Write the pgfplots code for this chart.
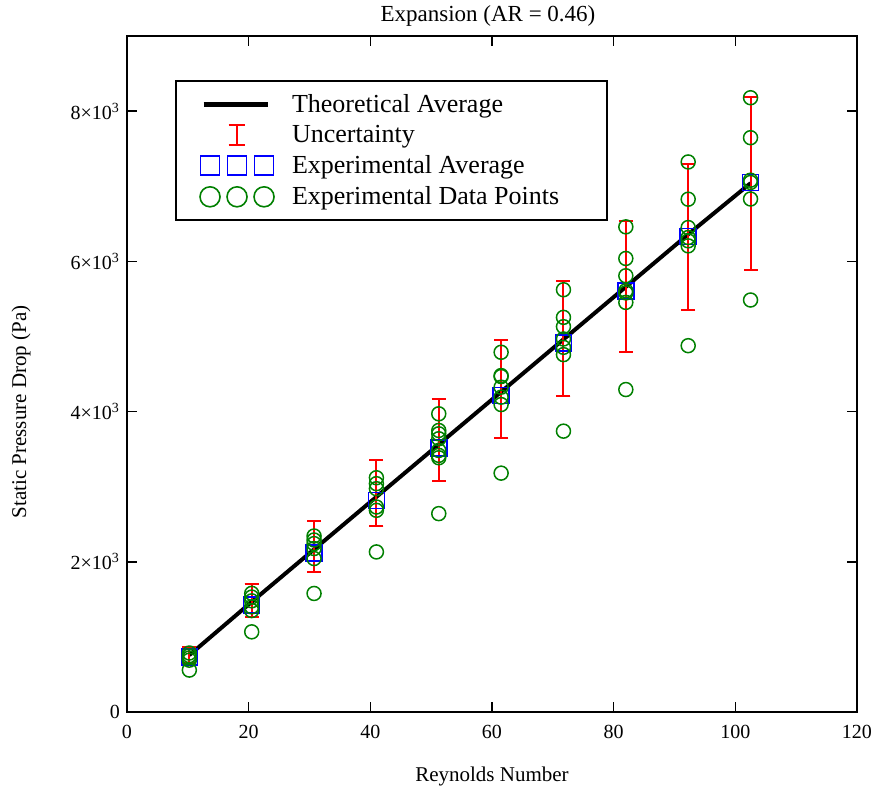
\documentclass[border=0pt]{standalone}
\usepackage{fontspec}
\setmainfont{Liberation Serif}
\usepackage{pgfplots}
\usepackage{pgfplotstable}
\pgfplotsset{compat=1.18}
\definecolor{dgreen}{RGB}{0,128,0}
\pgfplotstableread{
x y
10.25 757
20.5 1466
30.75 2165
41 2864
51.25 3563
61.5 4262
71.75 4961
82 5660
92.25 6359
102.5 7040
}\theory
\pgfplotstableread{
x y e
10.25 761 107
20.5 1480 221
30.75 2201 337
41 2911 438
51.25 3619 545
61.5 4304 653
71.75 4977 764
82 5664 875
92.25 6328 972
102.5 7037 1150
}\unc
\pgfplotstableread{
x y
10.25 735
20.5 1422
30.75 2120
41 2817
51.25 3513
61.5 4213
71.75 4913
82 5608
92.25 6330
102.5 7048
}\avg
\pgfplotstableread{
x y
10.25 785
10.25 750
10.25 720
10.25 690
10.25 558
20.5 1580
20.5 1530
20.5 1480
20.5 1400
20.5 1350
20.5 1067
30.75 2343
30.75 2290
30.75 2242
30.75 2176
30.75 2043
30.75 1578
41 3119
41 3040
41 2973
41 2729
41 2685
41 2131
51.25 3970
51.25 3748
51.25 3704
51.25 3638
51.25 3482
51.25 3416
51.25 3385
51.25 2641
61.5 4789
61.5 4479
61.5 4466
61.5 4324
61.5 4191
61.5 4093
61.5 3180
71.75 5622
71.75 5254
71.75 5130
71.75 4966
71.75 4855
71.75 4758
71.75 3739
82 6459
82 6038
82 5808
82 5608
82 5580
82 5453
82 4293
92.25 7323
92.25 6827
92.25 6450
92.25 6317
92.25 6273
92.25 6206
92.25 4877
102.5 8178
102.5 7646
102.5 7080
102.5 7050
102.5 6830
102.5 5485
}\pts
\begin{document}
\begin{tikzpicture}
\useasboundingbox (-63.5pt,-42pt) rectangle (376.5pt,356pt);
\begin{axis}[
  at={(0pt,0pt)}, anchor=south west, scale only axis,
  width=365pt, height=338pt,
  xmin=0, xmax=120, ymin=0, ymax=9000,
  xtick={0,20,40,60,80,100,120},
  ytick={0,2000,4000,6000,8000},
  yticklabels={0,{2×10\textsuperscript{3}},{4×10\textsuperscript{3}},{6×10\textsuperscript{3}},{8×10\textsuperscript{3}}},
  scaled y ticks=false,
  tick align=inside, major tick length=5pt,
  axis line style={line width=1pt},
  tick style={line width=0.8pt, black},
  ticklabel style={font=\fontsize{10}{12}\selectfont},
  xticklabel style={yshift=-3pt},
  /pgf/number format/assume math mode=true,
  title={Expansion (AR = 0.46)},
  title style={font=\fontsize{11.5}{13}\selectfont, at={(axis description cs:0.5,1)}, anchor=center, yshift=4pt, xshift=-2pt},
  xlabel={Reynolds Number},
  xlabel style={font=\fontsize{10.5}{12}\selectfont, at={(axis description cs:0.5,0)}, anchor=center, yshift=-32pt},
  ylabel={Static Pressure Drop (Pa)},
  ylabel style={font=\fontsize{10.5}{12}\selectfont, at={(axis description cs:-0.1452,0.444)}, anchor=center},
  legend cell align=left,
  legend style={at={(axis description cs:0.0658,0.9349)}, anchor=north west, draw=black, line width=1pt,
    font=\fontsize{13}{15.5}\selectfont, row sep=1pt, inner xsep=12pt, inner ysep=4.5pt,
    /tikz/every odd column/.append style={column sep=7pt}},
]
\addplot[black, line width=2pt, mark=none,
  legend image code/.code={\draw[black, line width=2.5pt] (0pt,0pt) -- (32pt,0pt);}]
  table[x=x, y=y] {\theory};
\addlegendentry{Theoretical Average}
\addplot[red, draw=none, mark=none,
  legend image code/.code={\draw[red, line width=1pt] (16.5pt,-5pt) -- (16.5pt,5pt) (12.5pt,-5pt) -- (20.5pt,-5pt) (12.5pt,5pt) -- (20.5pt,5pt);},
  error bars/.cd, y dir=both, y explicit,
  error bar style={draw=red, line width=1pt},
  error mark options={draw=red, rotate=90, mark size=3.5pt, line width=1pt}]
  table[x=x, y=y, y error=e] {\unc};
\addlegendentry{Uncertainty}
\addplot[blue, only marks, mark=square, mark size=4pt, mark options={line width=0.75pt, draw=blue},
  legend image code/.code={\path[blue] plot[mark=square, mark size=4.75pt, mark options={draw=blue, line width=0.8pt}] coordinates {(3.25pt,0pt) (16.75pt,0pt) (30.25pt,0pt)};}]
  table[x=x, y=y] {\avg};
\addlegendentry{Experimental Average}
\addplot[dgreen, only marks, mark=o, mark size=3.5pt, mark options={line width=0.75pt, draw=dgreen},
  legend image code/.code={\path[dgreen] plot[mark=o, mark size=5pt, mark options={draw=dgreen, line width=0.8pt}] coordinates {(3.25pt,0pt) (16.75pt,0pt) (30.25pt,0pt)};}]
  table[x=x, y=y] {\pts};
\addlegendentry{Experimental Data Points\hspace*{10pt}}
\addplot[red, draw=none, mark=none, forget plot,
  error bars/.cd, y dir=both, y explicit,
  error bar style={draw=red, line width=1pt},
  error mark options={draw=red, rotate=90, mark size=3.5pt, line width=1pt}]
  table[x=x, y=y, y error=e] {\unc};
\end{axis}
\end{tikzpicture}
\end{document}
